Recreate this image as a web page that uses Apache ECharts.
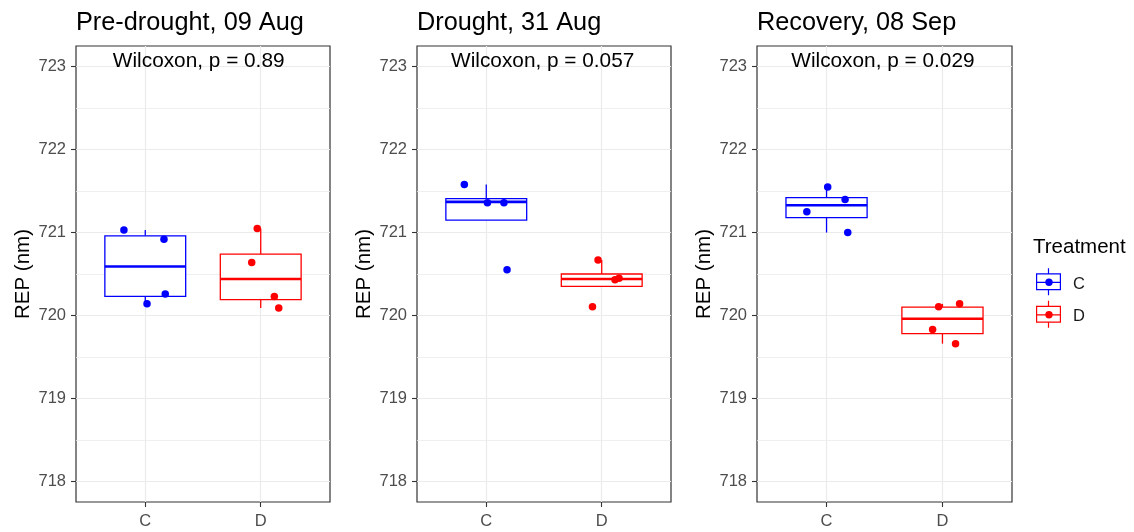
<!DOCTYPE html>
<html><head><meta charset="utf-8">
<script src="https://cdn.jsdelivr.net/npm/echarts@6/dist/echarts.min.js"></script>
<style>html,body{margin:0;padding:0;background:#fff}#c{width:1134px;height:532px}</style>
</head><body><div id="c"></div><script>
// ---- data ----
const categories = ['C', 'D'];
const panelTitles = ['Pre-drought, 09 Aug', 'Drought, 31 Aug', 'Recovery, 08 Sep'];
const pLabels = ['Wilcoxon, p = 0.89', 'Wilcoxon, p = 0.057', 'Wilcoxon, p = 0.029'];
const yTicks = [718, 719, 720, 721, 722, 723];
const xTicks = [1, 2];
const legendTitle = 'Treatment';
const yName = 'REP (nm)';
// box stats: [lower whisker end, Q1, median, Q3, upper whisker end]
const boxC = [
  [720.14, 720.23, 720.59, 720.96, 721.03],
  [721.35, 721.15, 721.37, 721.41, 721.58],
  [721.00, 721.18, 721.33, 721.42, 721.55]
];
const boxD = [
  [720.09, 720.19, 720.44, 720.74, 721.05],
  [720.43, 720.35, 720.44, 720.50, 720.67],
  [719.66, 719.78, 719.96, 720.10, 720.14]
];
// jittered points: values and horizontal jitter offsets
const ptsC = [
  [721.03, 720.92, 720.26, 720.14],
  [721.58, 721.36, 721.36, 720.55],
  [721.55, 721.40, 721.25, 721.00]
];
const jitC = [
  [-0.185, 0.162, 0.173, 0.015],
  [-0.19, 0.01, 0.153, 0.18],
  [0.01, 0.16, -0.17, 0.183]
];
const ptsD = [
  [721.05, 720.64, 720.23, 720.09],
  [720.67, 720.43, 720.45, 720.105],
  [720.105, 720.14, 719.83, 719.66]
];
const jitD = [
  [-0.03, -0.078, 0.118, 0.156],
  [-0.032, 0.115, 0.15, -0.08],
  [-0.033, 0.148, -0.085, 0.113]
];

// ---- layout / style ----
const FONT = '"Liberation Sans", Arial, sans-serif';
const colC = '#0000FF', colD = '#FF0000';
const gridLefts = [76, 417, 757];
const gridWidths = [254, 254, 255];
const gridTop = 46, gridHeight = 456;
const wilcoxX = [198.7, 542.7, 882.9];
const BOX_HALF = 0.35;

function makeBox(color) {
  return function (params, api) {
    const x = api.value(0);
    const cx = api.coord([x, api.value(3)])[0];
    const l = api.coord([x - BOX_HALF, api.value(3)])[0];
    const r = api.coord([x + BOX_HALF, api.value(3)])[0];
    const yLow = api.coord([x, api.value(1)])[1];
    const yQ1 = api.coord([x, api.value(2)])[1];
    const yMed = api.coord([x, api.value(3)])[1];
    const yQ3 = api.coord([x, api.value(4)])[1];
    const yHigh = api.coord([x, api.value(5)])[1];
    const lw = 1.3;
    return {
      type: 'group',
      children: [
        { type: 'line', shape: { x1: cx, y1: yQ3, x2: cx, y2: yHigh }, style: { stroke: color, lineWidth: lw } },
        { type: 'line', shape: { x1: cx, y1: yQ1, x2: cx, y2: yLow }, style: { stroke: color, lineWidth: lw } },
        { type: 'rect', shape: { x: l, y: yQ3, width: r - l, height: yQ1 - yQ3 }, style: { fill: '#fff', stroke: color, lineWidth: lw } },
        { type: 'line', shape: { x1: l, y1: yMed, x2: r, y2: yMed }, style: { stroke: color, lineWidth: 2.6 } }
      ]
    };
  };
}

// legend key: whiskers, box, median and dot; a trailing move point pads the key downward
const ICON = 'path://M11.9,0H13.1V5H11.9Z M0,5H25V6.2H0Z M0,20.8H25V22H0Z M0,5H1.2V22H0Z M23.8,5H25V22H23.8Z M0,13.4H25V14.6H0Z M11.9,22H13.1V27H11.9Z M9.3,14A3.7,3.7 0 1,1 16.7,14A3.7,3.7 0 1,1 9.3,14Z M0,32';

const grids = [], xAxes = [], yAxes = [], series = [], graphics = [];
for (let i = 0; i < 3; i++) {
  grids.push({ left: gridLefts[i], top: gridTop, width: gridWidths[i], height: gridHeight,
    show: true, borderColor: '#333333', borderWidth: 1.2, backgroundColor: '#fff', containLabel: false });
  xAxes.push({
    type: 'value', gridIndex: i, min: 0.4, max: 2.6, minInterval: 1, maxInterval: 1,
    axisLine: { show: false },
    axisTick: { show: true, length: 5, lineStyle: { color: '#333333', width: 1.1 }, customValues: xTicks },
    axisLabel: { customValues: xTicks, margin: 11, fontSize: 16.5, fontFamily: FONT, color: '#4D4D4D',
      formatter: v => categories[Math.round(v) - 1] || '' },
    splitLine: { show: true, lineStyle: { color: '#EBEBEB', width: 1.2 } }
  });
  yAxes.push({
    type: 'value', gridIndex: i, min: 717.75, max: 723.25, minInterval: 1, maxInterval: 1,
    name: yName, nameLocation: 'middle', nameGap: 42,
    nameTextStyle: { fontSize: 20.5, fontFamily: FONT, color: '#000' },
    axisLine: { show: false },
    axisTick: { show: true, length: 5, lineStyle: { color: '#333333', width: 1.1 }, customValues: yTicks },
    axisLabel: { customValues: yTicks, margin: 10, fontSize: 16.5, fontFamily: FONT, color: '#4D4D4D',
      formatter: v => (Number.isInteger(v) ? String(v) : '') },
    splitLine: { show: true, lineStyle: { color: '#EBEBEB', width: 1.2 } },
    minorTick: { show: false, splitNumber: 2 },
    minorSplitLine: { show: true, lineStyle: { color: '#EBEBEB', width: 0.8 } }
  });
  series.push({ type: 'custom', name: 'C', xAxisIndex: i, yAxisIndex: i, z: 2,
    itemStyle: { color: colC }, renderItem: makeBox(colC), data: [[1].concat(boxC[i])] });
  series.push({ type: 'custom', name: 'D', xAxisIndex: i, yAxisIndex: i, z: 2,
    itemStyle: { color: colD }, renderItem: makeBox(colD), data: [[2].concat(boxD[i])] });
  series.push({ type: 'scatter', name: 'C', xAxisIndex: i, yAxisIndex: i, z: 3, symbolSize: 7.5,
    itemStyle: { color: colC, opacity: 1 }, data: ptsC[i].map((v, k) => [1 + jitC[i][k], v]) });
  series.push({ type: 'scatter', name: 'D', xAxisIndex: i, yAxisIndex: i, z: 3, symbolSize: 7.5,
    itemStyle: { color: colD, opacity: 1 }, data: ptsD[i].map((v, k) => [2 + jitD[i][k], v]) });
  graphics.push({ type: 'text', x: gridLefts[i], y: 23.4, z: 10,
    style: { text: panelTitles[i], fill: '#000', font: '25.3px ' + FONT, textAlign: 'left', textVerticalAlign: 'middle' } });
  graphics.push({ type: 'text', x: wilcoxX[i], y: 60.9, z: 10,
    style: { text: pLabels[i], fill: '#000', font: '20.8px ' + FONT, textAlign: 'center', textVerticalAlign: 'middle' } });
}
graphics.push({ type: 'text', x: 1033, y: 247.5, z: 10,
  style: { text: legendTitle, fill: '#000', font: '20.5px ' + FONT, textAlign: 'left', textVerticalAlign: 'middle' } });

const chart = echarts.init(document.getElementById('c'), null, { renderer: 'canvas' });
chart.setOption({
  animation: false,
  backgroundColor: '#fff',
  textStyle: { fontFamily: FONT },
  grid: grids, xAxis: xAxes, yAxis: yAxes, series: series, graphic: graphics,
  legend: {
    orient: 'vertical', left: 1036, top: 268.3, padding: 0, itemWidth: 25, itemHeight: 32, itemGap: 0.5,
    selectedMode: false, symbolKeepAspect: false,
    data: categories.map((c, k) => ({ name: c, icon: ICON, itemStyle: { color: k === 0 ? colC : colD, borderWidth: 0 } })),
    textStyle: { fontSize: 16.5, fontFamily: FONT, color: '#1A1A1A', padding: [0, 0, 0, 7] }
  }
});
</script></body></html>
